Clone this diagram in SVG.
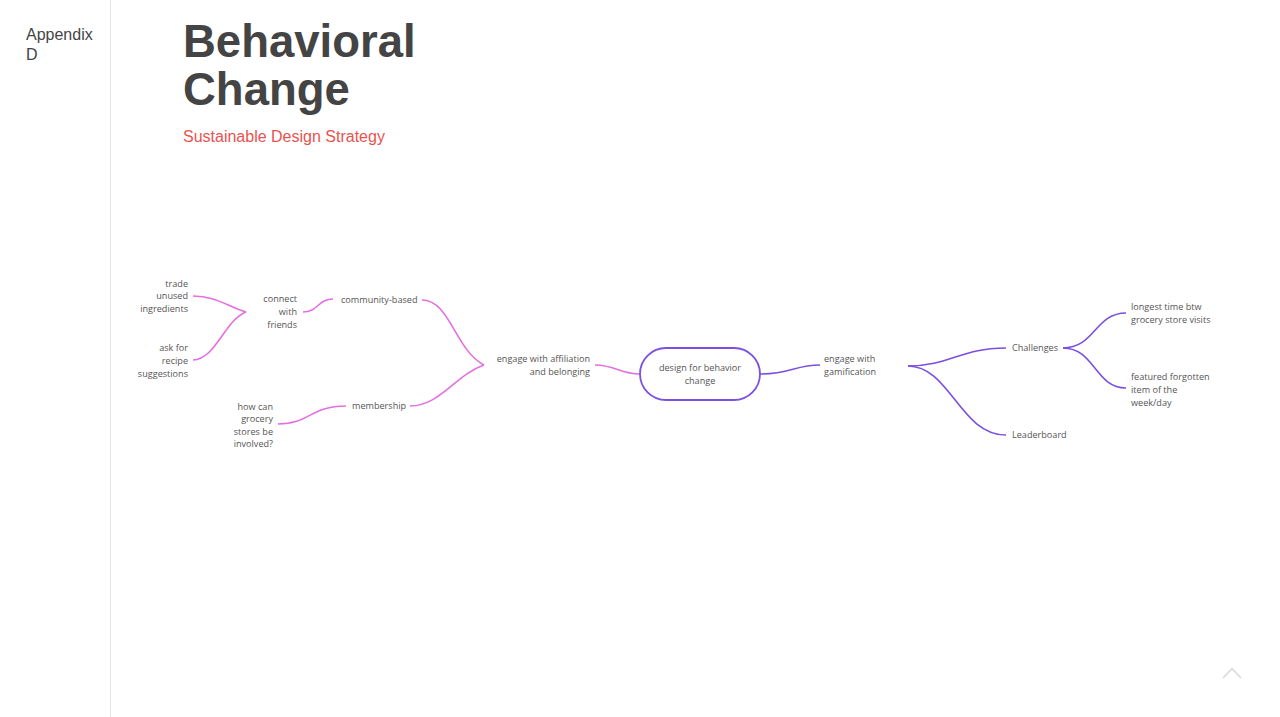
<svg xmlns="http://www.w3.org/2000/svg" width="1280" height="717" viewBox="0 0 1280 717">
<style>
.lbl{font-family:"Open Sans","Noto Sans",sans-serif;font-size:9.1px;fill:#555}
.r{text-anchor:end}
.c{text-anchor:middle}
.pk{fill:none;stroke:#e36fe0;stroke-width:1.6}
.pu{fill:none;stroke:#7b4fe0;stroke-width:1.6}
</style>
<rect width="1280" height="717" fill="#fff"/>
<line x1="110.5" y1="0" x2="110.5" y2="717" stroke="#e4e4e4" stroke-width="1"/>
<g id="header" font-family="'Liberation Sans',Arial,sans-serif">
<text x="26" y="40" font-size="16" fill="#444">Appendix</text>
<text x="26" y="60" font-size="16" fill="#444">D</text>
<text x="183" y="57" font-size="45.5" font-weight="bold" fill="#444">Behavioral</text>
<text x="183" y="105" font-size="45.5" font-weight="bold" fill="#444">Change</text>
<text x="183" y="142" font-size="16" fill="#e8534f">Sustainable Design Strategy</text>
</g>
<g id="connectors">
<path class="pk" d="M640,374 C620,374 615,365 595,365"/>
<path class="pk" d="M484,365 C455,350 450,300 422,300"/>
<path class="pk" d="M484,365 C455,375 440,406 410,406"/>
<path class="pk" d="M333,299 C318,299 318,312 303,312"/>
<path class="pk" d="M346,406 C310,406 310,424 278,424"/>
<path class="pk" d="M246,312 C225,305 215,296 193,296"/>
<path class="pk" d="M246,312 C225,320 215,360 193,360"/>
<path class="pu" d="M760,374 C790,374 795,365 820,365"/>
<path class="pu" d="M908,366 C950,366 960,348 1006,348"/>
<path class="pu" d="M908,366 C950,366 960,435 1006,435"/>
<path class="pu" d="M1063,348 C1095,348 1095,313 1126,313"/>
<path class="pu" d="M1063,348 C1095,348 1095,388 1126,388"/>
</g>
<g id="n-center">
<rect x="640" y="348" width="120" height="52" rx="26" fill="#fff" stroke="#7b4fe0" stroke-width="1.8"/>
<text class="lbl c" x="700" y="371">design for behavior</text>
<text class="lbl c" x="700" y="384">change</text>
</g>
<g id="n-affiliation">
<text class="lbl r" x="590" y="362">engage with affiliation</text>
<text class="lbl r" x="590" y="375">and belonging</text>
</g>
<g id="n-community">
<text class="lbl" x="341" y="303">community-based</text>
</g>
<g id="n-connect">
<text class="lbl r" x="297" y="302">connect</text>
<text class="lbl r" x="297" y="315">with</text>
<text class="lbl r" x="297" y="328">friends</text>
</g>
<g id="n-trade">
<text class="lbl r" x="188" y="287">trade</text>
<text class="lbl r" x="188" y="299">unused</text>
<text class="lbl r" x="188" y="312">ingredients</text>
</g>
<g id="n-recipe">
<text class="lbl r" x="188" y="351">ask for</text>
<text class="lbl r" x="188" y="364">recipe</text>
<text class="lbl r" x="188" y="377">suggestions</text>
</g>
<g id="n-membership">
<text class="lbl" x="352" y="409">membership</text>
</g>
<g id="n-grocery">
<text class="lbl r" x="273" y="410">how can</text>
<text class="lbl r" x="273" y="422">grocery</text>
<text class="lbl r" x="273" y="435">stores be</text>
<text class="lbl r" x="273" y="447">involved?</text>
</g>
<g id="n-gamification">
<text class="lbl" x="824" y="362">engage with</text>
<text class="lbl" x="824" y="375">gamification</text>
</g>
<g id="n-challenges">
<text class="lbl" x="1012" y="351">Challenges</text>
</g>
<g id="n-leaderboard">
<text class="lbl" x="1012" y="438">Leaderboard</text>
</g>
<g id="n-longest">
<text class="lbl" x="1131" y="310">longest time btw</text>
<text class="lbl" x="1131" y="323">grocery store visits</text>
</g>
<g id="n-featured">
<text class="lbl" x="1131" y="380">featured forgotten</text>
<text class="lbl" x="1131" y="393">item of the</text>
<text class="lbl" x="1131" y="406">week/day</text>
</g>
<polyline points="1223,678 1232,668.5 1241,678" fill="none" stroke="#d8d8d8" stroke-width="1.5"/>
</svg>
